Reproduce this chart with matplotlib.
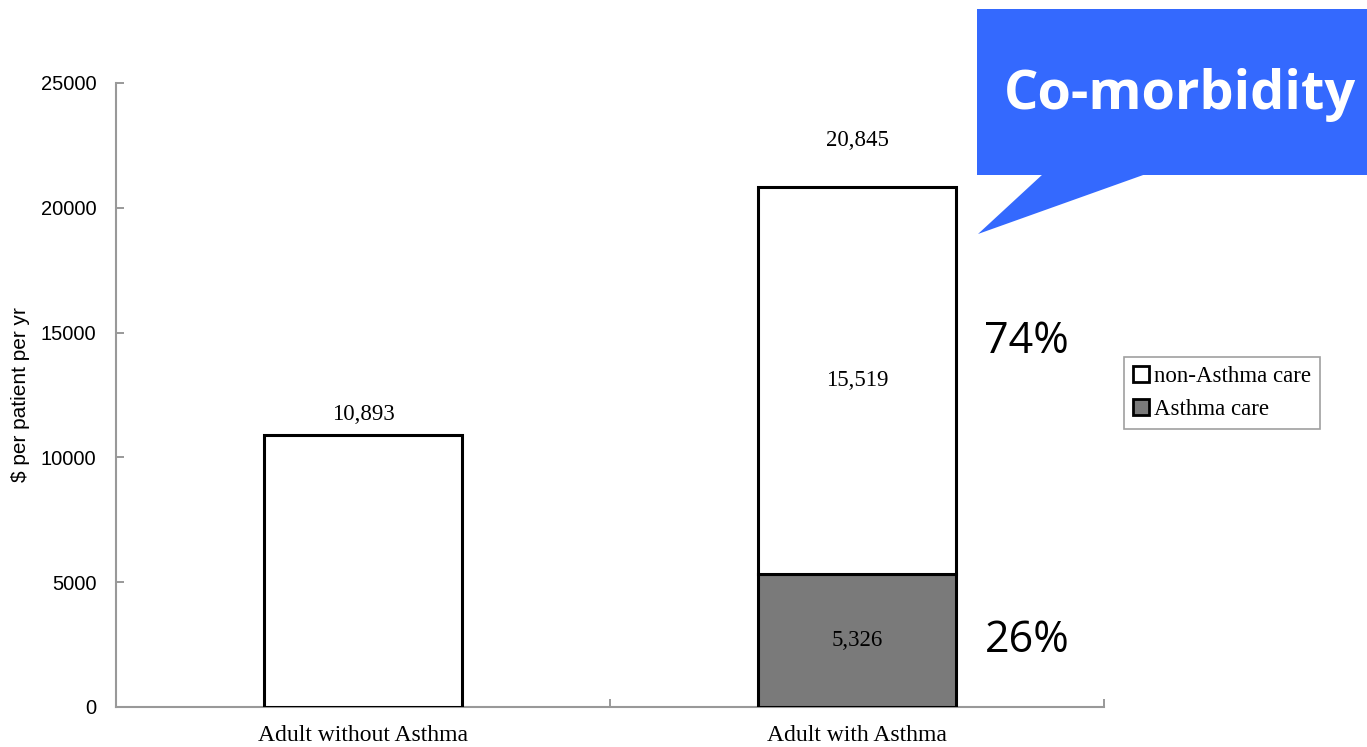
import matplotlib
matplotlib.use("Agg")
import matplotlib.pyplot as plt
from matplotlib.patches import Patch, Polygon, Rectangle

# ---- data ----
categories = ["Adult without Asthma", "Adult with Asthma"]
asthma_care = [0, 5326]
non_asthma_care = [10893, 15519]
totals = [10893, 20845]
shares = ["26%", "74%"]
yticks = [0, 5000, 10000, 15000, 20000, 25000]
callout_text = "Co-morbidity"

W, H = 1367, 747
fig = plt.figure(figsize=(W / 100, H / 100), dpi=100)
ax = fig.add_axes([116 / W, 1 - 707 / H, (1104 - 116) / W, (707 - 83) / H])

serif = ["Liberation Serif", "DejaVu Serif"]
sans = ["Liberation Sans", "DejaVu Sans"]
gray = "#7a7a7a"
x = list(range(len(categories)))
bw = 0.4

ax.bar(x, asthma_care, width=bw, color=gray, edgecolor="black", linewidth=2.2, zorder=3)
ax.bar(x, non_asthma_care, width=bw, bottom=asthma_care, color="white",
       edgecolor="black", linewidth=2.2, zorder=3)

# inside labels
for i in x:
    if asthma_care[i] > 0:
        ax.text(i, asthma_care[i] / 2, f"{asthma_care[i]:,}", ha="center", va="center",
                family=serif, fontsize=16.5, zorder=4)
        ax.text(i, asthma_care[i] + non_asthma_care[i] / 2, f"{non_asthma_care[i]:,}",
                ha="center", va="center", family=serif, fontsize=16.5, zorder=4)
# total labels
offsets = [10, 36]
for i in x:
    ax.annotate(f"{totals[i]:,}", (i, totals[i]), xytext=(0, offsets[i]),
                textcoords="offset pixels", ha="center", va="bottom",
                family=serif, fontsize=16.5)

ax.set_xlim(-0.5, 1.5)
ax.set_ylim(0, 25000)
ax.set_yticks(yticks)
ax.set_yticklabels([str(t) for t in yticks], family=sans, fontsize=14.5)
ax.set_xticks(x)
ax.set_xticklabels(categories, family=serif, fontsize=17)
ax.set_xticks([0.5, 1.5], minor=True)
ax.tick_params(axis="x", which="major", length=0, pad=13)
ax.tick_params(axis="x", which="minor", direction="in", length=6, color="#888888", width=1.2)
ax.tick_params(axis="y", direction="in", length=6, color="#888888", width=1.2, pad=14)
for s in ["top", "right"]:
    ax.spines[s].set_visible(False)
for s in ["left", "bottom"]:
    ax.spines[s].set_color("#999999")
    ax.spines[s].set_linewidth(1.5)
ax.set_ylabel("$ per patient per yr", family=sans, fontsize=15, labelpad=8)

# percentage annotations
pct_font = ["Open Sans", "DejaVu Sans"]
ax.annotate(shares[0], (1 + bw / 2, asthma_care[1] / 2), xytext=(71, 0),
            textcoords="offset pixels", ha="center", va="center",
            family=pct_font, fontsize=31)
ax.annotate(shares[1], (1 + bw / 2, 14650), xytext=(71, 0),
            textcoords="offset pixels", ha="center", va="center",
            family=pct_font, fontsize=31)

# legend
handles = [Patch(facecolor="white", edgecolor="black", linewidth=2),
           Patch(facecolor=gray, edgecolor="black", linewidth=2)]
leg = fig.legend(handles, ["non-Asthma care", "Asthma care"], loc="center left",
                 bbox_to_anchor=(1124 / W, 1 - 393 / H), prop={"family": serif, "size": 16.5},
                 frameon=True, fancybox=False, handlelength=0.7, handleheight=0.7,
                 handletextpad=0.2, borderpad=0.4, labelspacing=0.5, borderaxespad=0)
leg.get_frame().set_edgecolor("#888888")
leg.get_frame().set_linewidth(1.2)

# callout
blue = "#3469FE"
fig.patches.append(Rectangle((977 / W, 1 - 175 / H), (W - 977) / W, 166 / H,
                             transform=fig.transFigure, facecolor=blue, edgecolor="none"))
fig.patches.append(Polygon([(1043 / W, 1 - 174 / H), (1146 / W, 1 - 174 / H), (978 / W, 1 - 234 / H)],
                           closed=True, transform=fig.transFigure, facecolor=blue, edgecolor="none"))
fig.text(1180 / W, 1 - 95 / H, callout_text, ha="center", va="center", color="white",
         family=pct_font, fontweight="bold", fontsize=39)

fig.savefig("out.png", dpi=100)
